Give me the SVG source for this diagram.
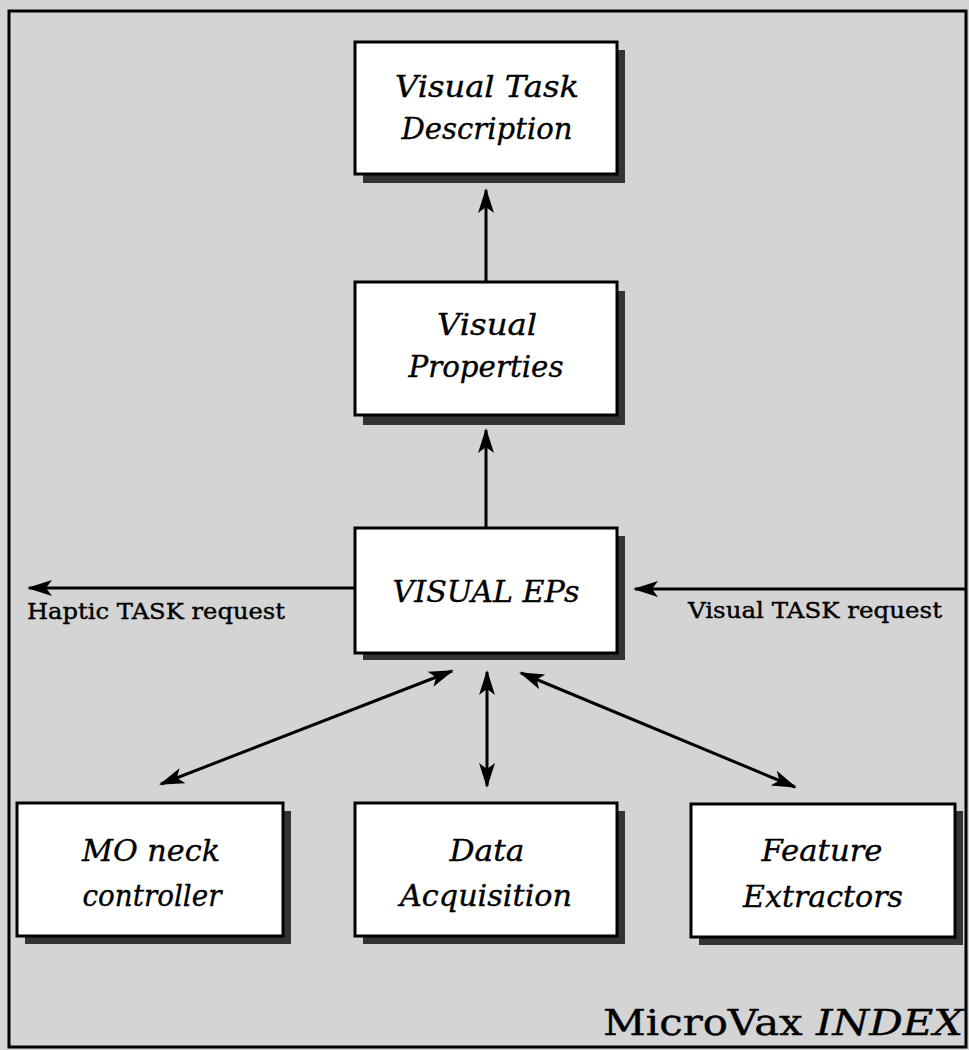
<svg xmlns="http://www.w3.org/2000/svg" width="969" height="1050" viewBox="0 0 969 1050">
<defs>
<style>
.bg{fill:#d4d4d4}
.frame{fill:none;stroke:#000;stroke-width:3}
.box{fill:#fff;stroke:#000;stroke-width:3}
.shadow{fill:#333}
.lbl{font-family:"DejaVu Serif","Liberation Serif",serif;font-style:italic;font-size:29px;fill:#000;stroke:#000;stroke-width:0.35;text-anchor:middle}
.req{font-family:"DejaVu Serif","Liberation Serif",serif;font-size:22px;fill:#000;stroke:#000;stroke-width:0.4}
.conn{stroke:#000;stroke-width:3;fill:none}
</style>
<marker id="ah" viewBox="0 -9 26 18" refX="23" refY="0" markerWidth="26" markerHeight="18" markerUnits="userSpaceOnUse" orient="auto-start-reverse">
<path d="M0,-8 L25,0 L0,8 L6,0 Z" fill="#000"/>
</marker>
</defs>
<rect class="bg" x="0" y="0" width="969" height="1050"/>
<rect class="frame" x="9" y="11" width="957" height="1036"/>

<g id="connectors">
<line class="conn" x1="486" y1="282" x2="486" y2="190" marker-end="url(#ah)"/>
<line class="conn" x1="486" y1="528" x2="486" y2="430" marker-end="url(#ah)"/>
<line class="conn" x1="355" y1="588" x2="29" y2="588" marker-end="url(#ah)"/>
<line class="conn" x1="966" y1="589" x2="635" y2="589" marker-end="url(#ah)"/>
<line class="conn" x1="452" y1="671" x2="161" y2="784" marker-start="url(#ah)" marker-end="url(#ah)"/>
<line class="conn" x1="487" y1="672" x2="487" y2="786" marker-start="url(#ah)" marker-end="url(#ah)"/>
<line class="conn" x1="521" y1="673" x2="795" y2="787" marker-start="url(#ah)" marker-end="url(#ah)"/>
</g>

<g id="node-visual-task-description">
<rect class="shadow" x="363" y="50" width="262" height="133"/>
<rect class="box" x="355" y="42" width="262" height="132"/>
<text class="lbl" x="487" y="97" textLength="184" lengthAdjust="spacingAndGlyphs">Visual Task</text>
<text class="lbl" x="487" y="139" textLength="171" lengthAdjust="spacingAndGlyphs">Description</text>
</g>

<g id="node-visual-properties">
<rect class="shadow" x="363" y="291" width="262" height="134"/>
<rect class="box" x="355" y="282" width="262" height="133"/>
<text class="lbl" x="487" y="335" textLength="100" lengthAdjust="spacingAndGlyphs">Visual</text>
<text class="lbl" x="486" y="377" textLength="155" lengthAdjust="spacingAndGlyphs">Properties</text>
</g>

<g id="node-visual-eps">
<rect class="shadow" x="363" y="536" width="262" height="124"/>
<rect class="box" x="355" y="528" width="262" height="125"/>
<text class="lbl" x="486" y="602" font-size="30" textLength="187" lengthAdjust="spacingAndGlyphs">VISUAL EPs</text>
</g>

<g id="node-mo-neck-controller">
<rect class="shadow" x="25" y="811" width="266" height="133"/>
<rect class="box" x="17" y="803" width="266" height="133"/>
<text class="lbl" x="151" y="861" textLength="138" lengthAdjust="spacingAndGlyphs">MO neck</text>
<text class="lbl" x="152" y="906" textLength="139" lengthAdjust="spacingAndGlyphs">controller</text>
</g>

<g id="node-data-acquisition">
<rect class="shadow" x="363" y="811" width="262" height="133"/>
<rect class="box" x="355" y="803" width="262" height="133"/>
<text class="lbl" x="487" y="861" textLength="75" lengthAdjust="spacingAndGlyphs">Data</text>
<text class="lbl" x="486" y="906" textLength="172" lengthAdjust="spacingAndGlyphs">Acquisition</text>
</g>

<g id="node-feature-extractors">
<rect class="shadow" x="699" y="811" width="264" height="134"/>
<rect class="box" x="691" y="804" width="264" height="133"/>
<text class="lbl" x="822" y="861" textLength="121" lengthAdjust="spacingAndGlyphs">Feature</text>
<text class="lbl" x="823" y="907" textLength="160" lengthAdjust="spacingAndGlyphs">Extractors</text>
</g>

<g id="labels">
<text class="req" x="27" y="619" textLength="258" lengthAdjust="spacingAndGlyphs">Haptic TASK request</text>
<text class="req" x="688" y="618" textLength="254" lengthAdjust="spacingAndGlyphs">Visual TASK request</text>
<text x="603" y="1035" font-family="DejaVu Serif, Liberation Serif, serif" font-size="35" stroke="#000" stroke-width="0.4" textLength="360" lengthAdjust="spacingAndGlyphs">MicroVax <tspan font-style="italic">INDEX</tspan></text>
</g>
</svg>
